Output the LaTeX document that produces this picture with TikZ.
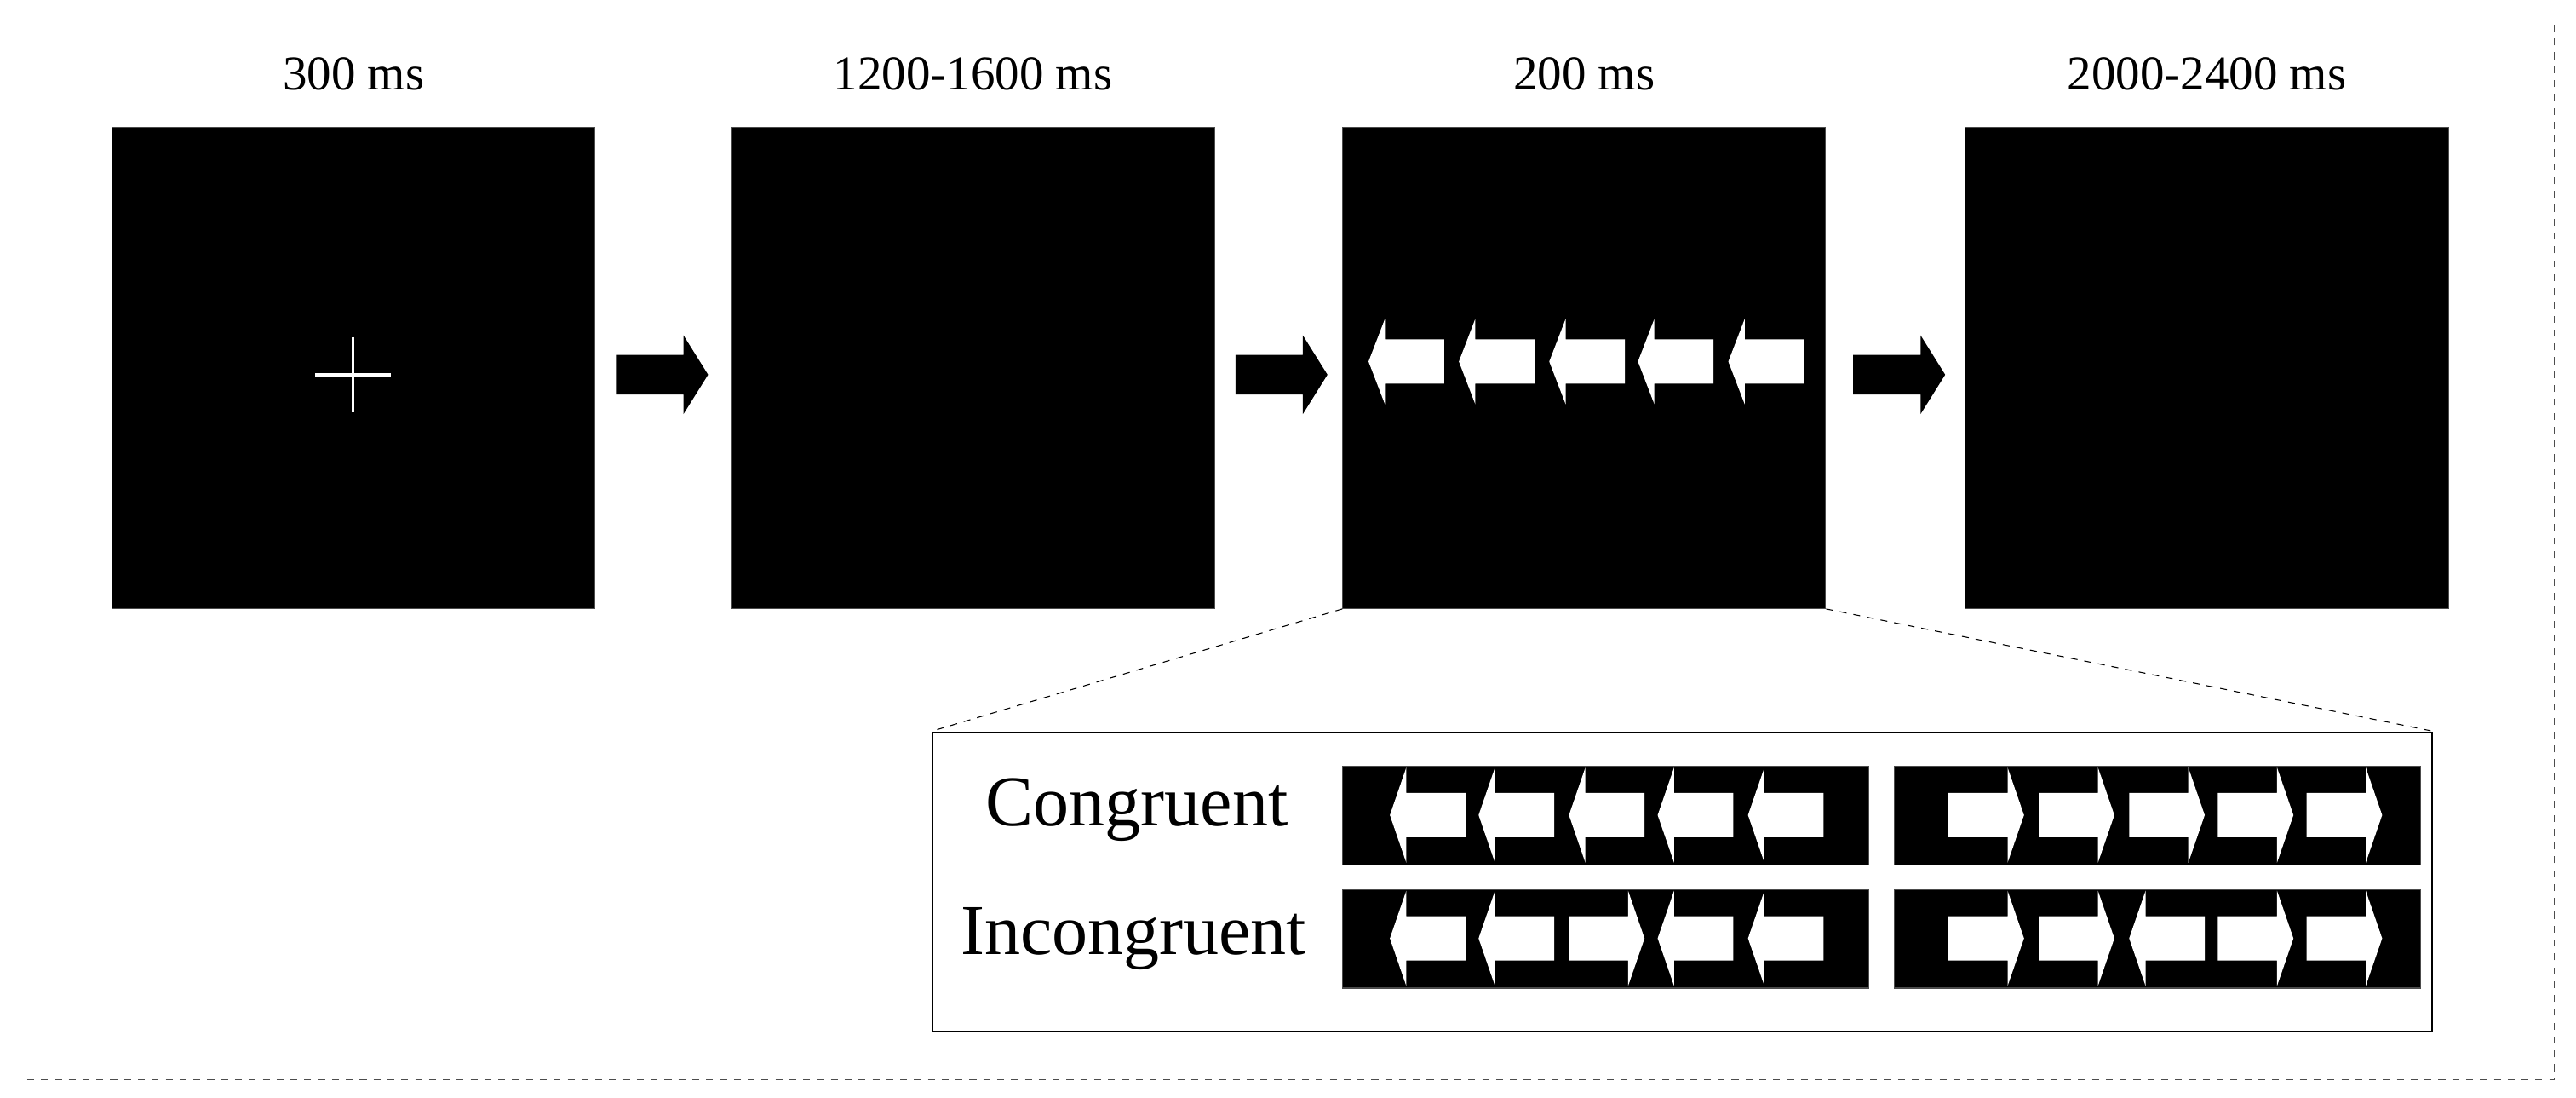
\documentclass[tikz,border=0pt]{standalone}
\usepackage{fontspec}
\setmainfont{Liberation Serif}
\usepackage{tikz}
\usetikzlibrary{positioning}
\tikzset{
screen/.style = {fill=black, draw=black!70, minimum width=294*0.25mm, minimum height=293*0.25mm, inner sep=0pt, anchor=north west},
strip/.style = {fill=black, draw=black!70, minimum width=320*0.25mm, minimum height=60*0.25mm, inner sep=0pt, anchor=north west},
title/.style = {font=\fontsize{21}{21}\selectfont},
cond/.style = {font=\fontsize{31}{31}\selectfont},
zoomline/.style = {draw, dashed, thin},
stim/.style = {fill=white, draw=none}
}
% left / right flanker arrow: #1 = left end, #2 = centre y, #3 = half head height
\newcommand{\larr}[3]{\fill[stim] (#1,#2) -- (#1+10,#2-#3) -- (#1+10,#2-13.5) -- (#1+46,#2-13.5) -- (#1+46,#2+13.5) -- (#1+10,#2+13.5) -- (#1+10,#2+#3) -- cycle;}
\newcommand{\rarr}[3]{\fill[stim] (#1+46,#2) -- (#1+36,#2-#3) -- (#1+36,#2-13.5) -- (#1,#2-13.5) -- (#1,#2+13.5) -- (#1+36,#2+13.5) -- (#1+36,#2+#3) -- cycle;}
\newcommand{\flow}[1]{\fill (#1,216) -- (#1+41,216) -- (#1+41,204) -- (#1+56,228) -- (#1+41,252) -- (#1+41,240) -- (#1,240) -- cycle;}
\begin{document}
\begin{tikzpicture}[x=0.25mm, y=-0.25mm]
    \useasboundingbox (0,0) rectangle (1568,668);
    \draw[dashed, black!70] (12,12) rectangle (1555,657);

    % trial screens
    \node [screen] (fix) at (68,77) {};
    \node [screen] (blank) at (445,77) {};
    \node [screen] (target) at (817,77) {};
    \node [screen] (resp) at (1196,77) {};
    \node [title, above=12pt of fix] {300 ms};
    \node [title, above=12pt of blank] {1200-1600 ms};
    \node [title, above=12pt of target] {200 ms};
    \node [title, above=12pt of resp] {2000-2400 ms};

    \draw[white, line width=1.2pt] (192,228) -- (238,228) (215,205) -- (215,251);
    \foreach \x in {833,888,943,997,1052} {\larr{\x}{220}{26}}
    \foreach \x in {375,752,1128} {\flow{\x}}

    % zoomed panel
    \node [draw, thick, minimum width=913*0.25mm, minimum height=182*0.25mm, anchor=north west] (panel) at (567,445) {};
    \draw[zoomline] (target.south west) -- (panel.north west);
    \draw[zoomline] (target.south east) -- (panel.north east);
    \node [cond] (cong) at (692,493) {Congruent};
    \node [cond] (incong) at (690,571) {Incongruent};
    \node [strip] (cl) at (817,466) {};
    \node [strip] (cr) at (1153,466) {};
    \node [strip] (il) at (817,541) {};
    \node [strip] (ir) at (1153,541) {};
    \foreach \x in {846,900,955,1009,1064} {\larr{\x}{496}{29}}
    \foreach \x in {1186,1241,1296,1350,1404} {\rarr{\x}{496}{29}}
    \foreach \x in {846,900,1009,1064} {\larr{\x}{571}{29}}
    \rarr{955}{571}{29}
    \foreach \x in {1186,1241,1350,1404} {\rarr{\x}{571}{29}}
    \larr{1296}{571}{29}
\end{tikzpicture}
\end{document}
